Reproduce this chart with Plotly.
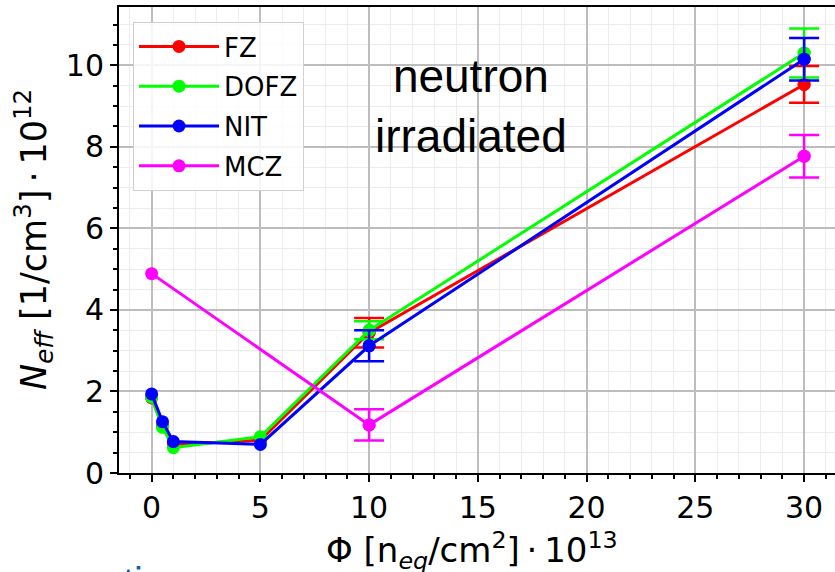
import plotly.graph_objects as go

# ---- data ----
fluence = [0, 0.5, 1, 5, 10, 30]
fz = [1.84, 1.15, 0.70, 0.80, 3.44, 9.53]
fz_err = [0, 0, 0, 0, 0.36, 0.45]
dofz = [1.86, 1.12, 0.62, 0.89, 3.50, 10.30]
dofz_err = [0, 0, 0, 0, 0.22, 0.60]
nit = [1.94, 1.26, 0.77, 0.70, 3.12, 10.15]
nit_err = [0, 0, 0, 0, 0.38, 0.52]
mcz_fluence = [0, 10, 30]
mcz = [4.89, 1.18, 7.77]
mcz_err = [0, 0.385, 0.52]

series_names = ["FZ", "DOFZ", "NIT", "MCZ"]
series_colors = ["#ff0000", "#00ff00", "#0000ff", "#ff00ff"]
series_x = [fluence, fluence, fluence, mcz_fluence]
series_y = [fz, dofz, nit, mcz]
series_err = [fz_err, dofz_err, nit_err, mcz_err]

x_ticks = [0, 5, 10, 15, 20, 25, 30]
y_ticks = [0, 2, 4, 6, 8, 10]

W, H = 835, 572
ML, MR, MT, MB = 119, 0, 7, 99
PW, PH = W - ML - MR, H - MT - MB


def px_to_paper_x(px):
    return (px - ML) / PW


def px_to_paper_y(py):
    return (H - MB - py) / PH


fig = go.Figure()
for name, color, xs, ys, es in zip(series_names, series_colors, series_x, series_y, series_err):
    fig.add_trace(go.Scatter(
        x=xs, y=ys, mode="lines+markers", name=name, legendgroup=name,
        line=dict(color=color, width=3),
        marker=dict(color=color, size=13),
    ))
    idx = [i for i, e in enumerate(es) if e > 0]
    fig.add_trace(go.Scatter(
        x=[xs[i] for i in idx], y=[ys[i] for i in idx], mode="markers",
        showlegend=False, legendgroup=name,
        marker=dict(color=color, size=13),
        error_y=dict(type="data", array=[es[i] for i in idx], color=color,
                     thickness=2.5, width=15, visible=True),
    ))

tick_font = dict(family="DejaVu Sans", size=30, color="black")

fig.update_xaxes(
    range=[-1.5, 31.42], tickvals=x_ticks, ticktext=[str(v) for v in x_ticks],
    ticks="outside", ticklen=7, tickwidth=1.5, tickcolor="black",
    showline=True, linecolor="black", linewidth=2, mirror=True,
    showgrid=True, gridcolor="#bdbdbd", gridwidth=1.5, zeroline=False,
    tickfont=tick_font,
    minor=dict(dtick=1, tick0=0, ticks="outside", ticklen=4, tickcolor="black",
               showgrid=True, gridcolor="#ececec", gridwidth=1),
)
fig.update_yaxes(
    range=[0, 11.43], tickvals=y_ticks, ticktext=[str(v) for v in y_ticks],
    ticks="outside", ticklen=7, tickwidth=1.5, tickcolor="black",
    showline=True, linecolor="black", linewidth=2, mirror=False,
    showgrid=True, gridcolor="#bdbdbd", gridwidth=1.5, zeroline=False,
    tickfont=tick_font,
    minor=dict(dtick=0.5, tick0=0, ticks="outside", ticklen=4, tickcolor="black",
               showgrid=True, gridcolor="#ececec", gridwidth=1),
)

fig.update_layout(
    width=W, height=H, autosize=False,
    margin=dict(l=ML, r=MR, t=MT, b=MB, pad=0),
    paper_bgcolor="white", plot_bgcolor="white",
    showlegend=True,
    legend=dict(
        x=px_to_paper_x(133), y=px_to_paper_y(22), xanchor="left", yanchor="top",
        bgcolor="rgba(255,255,255,0.85)", bordercolor="#d0d0d0", borderwidth=1,
        font=dict(family="DejaVu Sans", size=26, color="black"),
        tracegroupgap=3, itemwidth=80,
    ),
    annotations=[
        dict(text="neutron<br>irradiated", x=px_to_paper_x(471), y=px_to_paper_y(106),
             xref="paper", yref="paper", xanchor="center", yanchor="middle",
             showarrow=False, font=dict(family="Liberation Sans, Arial", size=46, color="black")),
        dict(text="<i>N</i><sub><i>eff</i></sub> [1/cm<sup>3</sup>]\u2009\u00b7\u200910<sup>12</sup>",
             x=px_to_paper_x(33), y=px_to_paper_y(240), xref="paper", yref="paper",
             xanchor="center", yanchor="middle", textangle=-90, showarrow=False,
             font=dict(family="DejaVu Sans", size=35, color="black")),
        dict(text="\u03a6 [n<sub><i>eq</i></sub>/cm<sup>2</sup>]\u2009\u00b7\u200910<sup>13</sup>",
             x=px_to_paper_x(472), y=px_to_paper_y(550), xref="paper", yref="paper",
             xanchor="center", yanchor="middle", showarrow=False,
             font=dict(family="DejaVu Sans", size=34, color="black")),
        dict(text="ti", x=px_to_paper_x(121), y=px_to_paper_y(558), xref="paper", yref="paper",
             xanchor="left", yanchor="top", showarrow=False,
             font=dict(family="Liberation Sans, Arial", size=40, color="#1260a8")),
    ],
)

fig.write_html("out.html", config={"displayModeBar": False},
               post_script="document.body.style.margin='0';document.body.style.overflow='hidden';")
